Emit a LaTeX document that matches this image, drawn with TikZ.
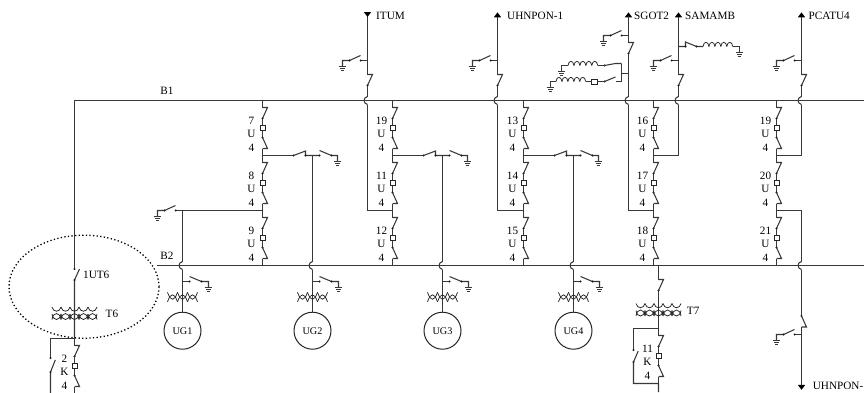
\documentclass[tikz,border=0pt]{standalone}
\usepackage{fontspec}
\setmainfont{Liberation Serif}
\newcommand\lbl{\fontsize{11.2}{12}\selectfont}
\newcommand\lblug{\fontsize{10.2}{11}\selectfont}
\tikzset{
  wire/.style={draw=black!78,line width=1.05pt,line join=miter},
  pinpt/.style={fill=black!90,draw=none},
  txt/.style={inner sep=0pt,font=\lbl,text=black},
  txtl/.style={txt,anchor=west},
  box/.style={draw=black!85,fill=white,line width=.8pt,inner sep=0pt,minimum size=5.2pt},
  gen/.style={circle,draw=black!85,line width=1pt,inner sep=0pt,minimum size=37pt,font=\lblug,text=black},
  dots/.style={draw=black,line width=1.3pt,dash pattern=on 1.3pt off 2.3pt},
  tri/.style={fill=black,draw=none},
  coilln/.style={draw=black!85,line width=.75pt}
}
\newcommand\dt[2]{\fill[pinpt] (#1,#2) circle (1.15);}
% ground symbol with its stem foot at (x,y)
\newcommand\gnd[2]{%
  \draw[wire] (#1-3.8,#2)--(#1+3.8,#2);
  \draw[wire] (#1-2.5,#2+2)--(#1+2.5,#2+2);
  \draw[wire] (#1-1.2,#2+4)--(#1+1.2,#2+4);}
% earthing switch going left / right from a line at x
\newcommand\gsl[2]{%
  \draw[wire] (#1,#2)--(#1-6.8,#2);
  \dt{#1-6.8}{#2}
  \draw[wire] (#1-7,#2-5)--(#1-18,#2)--(#1-25,#2)--(#1-25,#2+6);
  \dt{#1-18}{#2}\gnd{#1-25}{#2+6}}
\newcommand\gsr[2]{%
  \draw[wire] (#1,#2)--(#1+7,#2);
  \dt{#1+7}{#2}
  \draw[wire] (#1+7,#2-5)--(#1+19,#2)--(#1+26,#2)--(#1+26,#2+6);
  \dt{#1+19}{#2}\gnd{#1+26}{#2+6}}
% disconnector with upper contact hook: tick at y, pivot at y+11
\newcommand\dsu[2]{%
  \draw[wire] (#1,#2)--(#1+5,#2)--(#1,#2+11);\dt{#1}{#2+11}}
\newcommand\dsd[2]{%
  \dt{#1}{#2}\draw[wire] (#1,#2)--(#1+5,#2+11)--(#1,#2+11);}
% breaker module, 55 high
\newcommand\modl[6]{% x, ytop, a, b, c, label x-offset
  \draw[wire] (#1,#2)--(#1,#2+7);
  \dsu{#1}{#2+7}
  \draw[wire] (#1,#2+18)--(#1,#2+37);
  \dsd{#1}{#2+37}
  \draw[wire] (#1,#2+48)--(#1,#2+55);
  \node[box] (sq-#3-#2) at (#1,#2+27.5) {};
  \node[txt] (num-#3-#2) at (#1-#6,#2+20) {#3};
  \node[txt] (let-#3-#2) at (#1-#6,#2+33.5) {#4};
  \node[txt] (fou-#3-#2) at (#1-#6,#2+47) {#5};}
\newcommand\modt[4]{\modl{#1}{100.5}{#2}{U}{4}{11}\modl{#1}{155.5}{#3}{U}{4}{11}\modl{#1}{210.5}{#4}{U}{4}{11}}
% vertical line hopping a bus at (x,y)
\newcommand\jump[2]{%
  \draw[wire] (#1,#2-4) .. controls (#1-4.6,#2-3) and (#1-4.6,#2+3) .. (#1,#2+4);}
% rows of scallops: x0,y,n,w,depth (depth>0 = downward), inset
\newcommand\scal[6]{%
  \foreach \ii in {1,...,#3}{%
    \draw[coilln] ({#1+(\ii-1)*#4},#2) .. controls ({#1+(\ii-1)*#4+#6*#4},{#2+1.33*#5}) and ({#1+\ii*#4-#6*#4},{#2+1.33*#5}) .. ({#1+\ii*#4},#2);}}
% coil along a horizontal run from x0 with n bumps
\newcommand\coil[5]{\scal{#1}{#2}{#3}{#4}{#5}{.1}}
\newcommand\trafo[2]{%
  \scal{#1-22.5}{#2}{5}{9}{4.2}{.12}
  \scal{#1-22.5}{#2+12.5}{5}{9}{-6}{.12}
  \scal{#1-22.5}{#2+7}{5}{9}{5.5}{.12}}
\newcommand\exci[2]{%
  \scal{#1-15}{#2}{3}{10}{7}{.32}
  \scal{#1-15}{#2+9.5}{3}{10}{-7}{.32}}
\newcommand\upar[2]{\fill[tri] (#1,#2-4.6)--(#1+3.7,#2+.3)--(#1-3.7,#2+.3)--cycle;}
\newcommand\dnar[2]{\fill[tri] (#1,#2+4.6)--(#1+3.7,#2-.3)--(#1-3.7,#2-.3)--cycle;}
\newcommand\midbay[1]{%
  \draw[wire] (#1,155.5)--(#1+31,155.5);\dt{#1+31}{155.5}
  \draw[wire] (#1+31,155.5)--(#1+43,151)--(#1+43,155.5)--(#1+57,155.5);
  \dt{#1+43}{155.5}\dt{#1+57}{155.5}
  \draw[wire] (#1+57,150.5)--(#1+69,155.5)--(#1+75,155.5)--(#1+75,161.5);
  \dt{#1+69}{155.5}\gnd{#1+75}{161.5}}
\newcommand\ugbay[3]{%
  \draw[wire] (#1,#2)--(#1,261.5);
  \jump{#1}{265.5}
  \draw[wire] (#1,269.5)--(#1,312);
  \gsr{#1}{281.5}
  \exci{#1}{292.3}
  \node[gen] (ug#3) at (#1,330.7) {UG#3};}
\newcommand\feeder[1]{%
  \draw[wire] (#1,16)--(#1,74.5);
  \dsu{#1}{74.5}
  \draw[wire] (#1,85.5)--(#1,96.5);
  \jump{#1}{100.5}
  \gsl{#1}{60.5}}
\begin{document}
\begin{tikzpicture}[x=1pt,y=-1pt]
\useasboundingbox (0,0) rectangle (864,392);
\clip (0,0) rectangle (864,392);
\fill[white] (0,0) rectangle (864,392);

% buses
\coordinate (b1l) at (74.5,100.5);
\coordinate (b1r) at (864,100.5);
\coordinate (b2l) at (157,265.5);
\coordinate (b2r) at (864,265.5);
\draw[wire] (b1r)--(b1l)--(74.5,269);
\draw[wire] (b2l)--(b2r);
\node[txt] (B1) at (167,91) {B1};
\node[txt] (B2) at (167,256) {B2};

% T6 feeder
\dt{74.5}{269}
\draw[wire] (79.5,269)--(74.5,280)--(74.5,338.5);
\dt{74.5}{280}
\node[txtl] (n1ut6) at (83,275) {1UT6};
\trafo{74.5}{307}
\node[txtl] (nt6) at (105.5,313.5) {T6};
\draw[dots] (84,286.7) ellipse (75 and 51.5);
\modl{74.5}{338.5}{2}{K}{4}{10}
\draw[wire] (74.5,338.5)--(50.5,338.5)--(50.5,358);
\dt{50.5}{358}
\draw[wire] (55.3,360)--(50.5,372)--(50.5,396);
\dt{50.5}{372}

% breaker bays
\modt{262.5}{7}{8}{9}
\modt{392.5}{19}{11}{12}
\modt{523.5}{13}{14}{15}
\modt{653.5}{16}{17}{18}
\modt{776.5}{19}{20}{21}

% generator bays
\midbay{262.5}\midbay{392.5}\midbay{523.5}
\draw[wire] (262.5,210.5)--(182.5,210.5);
\gsl{182.5}{210.5}
\ugbay{182.5}{210.5}{1}
\ugbay{312.5}{155.5}{2}
\ugbay{442.5}{155.5}{3}
\ugbay{573.5}{155.5}{4}

% outgoing feeders
\feeder{367.5}
\feeder{497.5}
\feeder{678.5}
\feeder{801.5}
\dnar{367.5}{12.3}
\upar{497.5}{17}
\upar{678.5}{17}
\upar{801.5}{17}
\node[txtl] (itum) at (376,16.3) {ITUM};
\node[txtl] (uh1) at (507,16.3) {UHNPON-1};
\node[txtl] (sam) at (685,16.3) {SAMAMB};
\node[txtl] (pca) at (808.5,16.3) {PCATU4};

\draw[wire] (367.5,104.5)--(367.5,210.5)--(392.5,210.5);
\draw[wire] (497.5,104.5)--(497.5,210.5)--(523.5,210.5);
\draw[wire] (628.5,104.5)--(628.5,210.5)--(653.5,210.5);
\draw[wire] (678.5,104.5)--(678.5,155.5)--(653.5,155.5);
\draw[wire] (801.5,104.5)--(801.5,155.5)--(776.5,155.5);

% SGOT2
\upar{628.5}{17}
\node[txtl] (sg) at (634,16.3) {SGOT2};
\draw[wire] (628.5,16)--(628.5,42.5);
\gsl{628.5}{35.5}
\dsu{628.5}{42.5}
\draw[wire] (628.5,53.5)--(628.5,96.5);
\jump{628.5}{100.5}
\draw[wire] (628.5,73.5)--(621.5,73.5);
\draw[wire] (621.5,63.5)--(621.5,81.5)--(615.5,81.5);
\draw[wire] (621.5,63.5)--(615.5,63.5)--(604.5,65.5);
\dt{604.5}{65.5}
\draw[wire] (604.5,65.5)--(597.5,65.5);
\coil{568}{65.5}{5}{5.95}{-4.2}
\draw[wire] (568,65.5)--(561.5,65.5)--(561.5,71.5);
\gnd{561.5}{71.5}
\draw[wire] (615.5,77)--(604.5,81.5);
\dt{604.5}{81.5}
\draw[wire] (604.5,81.5)--(596,81.5);
\node[box] (sqs) at (594.3,81.5) {};
\draw[wire] (591.6,81.5)--(585.8,81.5);
\coil{556}{81.5}{5}{5.95}{-4.2}
\draw[wire] (556,81.5)--(550.5,81.5)--(550.5,87.5);
\gnd{550.5}{87.5}

% SAMAMB coil branch
\draw[wire] (678.5,46.5)--(685.5,46.5)--(685.5,42)--(696.5,46.5)--(703,46.5);
\dt{685.5}{46.5}\dt{696.5}{46.5}
\coil{703}{46.5}{5}{5.95}{-4.2}
\draw[wire] (732.7,46.5)--(739.5,46.5)--(739.5,52.5);
\gnd{739.5}{52.5}

% T7
\draw[wire] (658.5,265.5)--(658.5,279.5);
\dsu{658.5}{279.5}
\draw[wire] (658.5,290.5)--(658.5,329);
\trafo{658.5}{303.5}
\node[txtl] (nt7) at (686.7,310.5) {T7};
\modl{658.5}{328.5}{11}{K}{4}{11}
\draw[wire] (658.5,328.5)--(633.5,328.5)--(633.5,350);
\dt{633.5}{350}
\draw[wire] (638.2,351)--(633.5,362)--(633.5,383.5)--(658.5,383.5)--(658.5,392);
\dt{633.5}{362}

% right lower feeder
\draw[wire] (776.5,210.5)--(801.5,210.5)--(801.5,261.5);
\jump{801.5}{265.5}
\draw[wire] (801.5,269.5)--(801.5,316);
\dsd{801.5}{316}
\draw[wire] (801.5,327)--(801.5,385);
\gsl{801.5}{334.5}
\dnar{801.5}{385.2}
\node[txtl] (uh2) at (812.7,386) {UHNPON-};
\end{tikzpicture}
\end{document}
